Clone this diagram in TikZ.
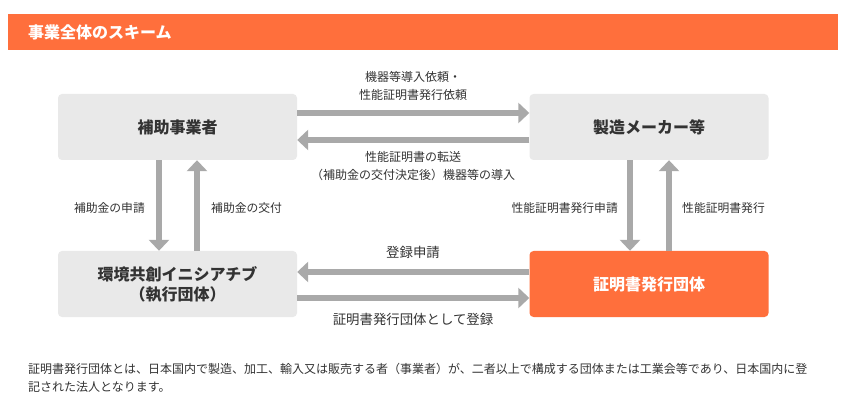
\documentclass[tikz,border=0pt]{standalone}
\usepackage{fontspec}
\setmainfont{Noto Sans CJK JP}
\usetikzlibrary{arrows.meta}
\definecolor{orng}{HTML}{FF6F3C}
\definecolor{boxgray}{HTML}{E9E9E9}
\definecolor{arrgray}{HTML}{A9A9A9}
\definecolor{txt}{HTML}{333333}
\tikzset{
  box/.style={fill=boxgray, rounded corners=4pt, minimum width=239pt, minimum height=66pt, inner sep=0pt, align=center, font=\fontsize{16}{20}\selectfont\bfseries, text=txt},
  obox/.style={box, fill=orng, text=white},
  flow/.style={draw=arrgray, line width=6.5pt, -{Triangle[width=20pt,length=11pt]}},
  lbl/.style={font=\fontsize{11.8}{17}\selectfont, text=txt, align=center, inner sep=0pt},
  toplbl/.style={lbl, font=\fontsize{12}{17.5}\selectfont},
  lowlbl/.style={lbl, font=\fontsize{13.4}{17}\selectfont},
}
\begin{document}
\begin{tikzpicture}[x=1pt,y=-1pt]
\useasboundingbox (0,0) rectangle (851,403);
\fill[white] (0,0) rectangle (851,403);
\node[fill=orng, minimum width=830pt, minimum height=36pt, anchor=north west, inner sep=0pt] (bar) at (8,14) {};
\node[anchor=west, text=white, font=\fontsize{16}{19}\selectfont\bfseries, inner sep=0pt] (title) at (28,32) {事業全体のスキーム};

\node[box] (hojo) at (177.5,127) {補助事業者};
\node[box] (maker) at (649,127) {製造メーカー等};
\node[box] (sii) at (177.5,284) {環境共創イニシアチブ\\（執行団体）};
\node[obox] (cert) at (649,284) {証明書発行団体};

\coordinate (a1s) at (hojo.east |- 0,113);
\coordinate (a1e) at (maker.west |- 0,113);
\draw[flow] (a1s) -- (a1e);
\coordinate (a2s) at (maker.west |- 0,140);
\coordinate (a2e) at (hojo.east |- 0,140);
\draw[flow] (a2s) -- (a2e);

\coordinate (a3s) at (hojo.south -| 159,0);
\coordinate (a3e) at (sii.north -| 159,0);
\draw[flow] (a3s) -- (a3e);
\coordinate (a4s) at (sii.north -| 197,0);
\coordinate (a4e) at (hojo.south -| 197,0);
\draw[flow] (a4s) -- (a4e);

\coordinate (a5s) at (maker.south -| 630,0);
\coordinate (a5e) at (cert.north -| 630,0);
\draw[flow] (a5s) -- (a5e);
\coordinate (a6s) at (cert.north -| 669,0);
\coordinate (a6e) at (maker.south -| 669,0);
\draw[flow] (a6s) -- (a6e);

\coordinate (a7s) at (cert.west |- 0,272);
\coordinate (a7e) at (sii.east |- 0,272);
\draw[flow] (a7s) -- (a7e);
\coordinate (a8s) at (sii.east |- 0,298);
\coordinate (a8e) at (cert.west |- 0,298);
\draw[flow] (a8s) -- (a8e);

\node[toplbl] (l1) at (413,86) {機器等導入依頼・\\性能証明書発行依頼};
\node[toplbl] (l2) at (413,166) {性能証明書の転送\\（補助金の交付決定後）機器等の導入};
\node[lbl, anchor=east] (l3) at (145,208) {補助金の申請};
\node[lbl, anchor=west] (l4) at (211,208) {補助金の交付};
\node[lbl, anchor=east] (l5) at (618,208) {性能証明書発行申請};
\node[lbl, anchor=west] (l6) at (682,208) {性能証明書発行};
\node[lowlbl] (l7) at (413,252) {登録申請};
\node[lowlbl] (l8) at (413,319) {証明書発行団体として登録};

\node[lbl, anchor=north west, align=left, font=\fontsize{12}{18}\selectfont] (note) at (28,363) {証明書発行団体とは、日本国内で製造、加工、輸入又は販売する者（事業者）が、二者以上で構成する団体または工業会等であり、日本国内に登\\記された法人となります。};
\end{tikzpicture}
\end{document}
